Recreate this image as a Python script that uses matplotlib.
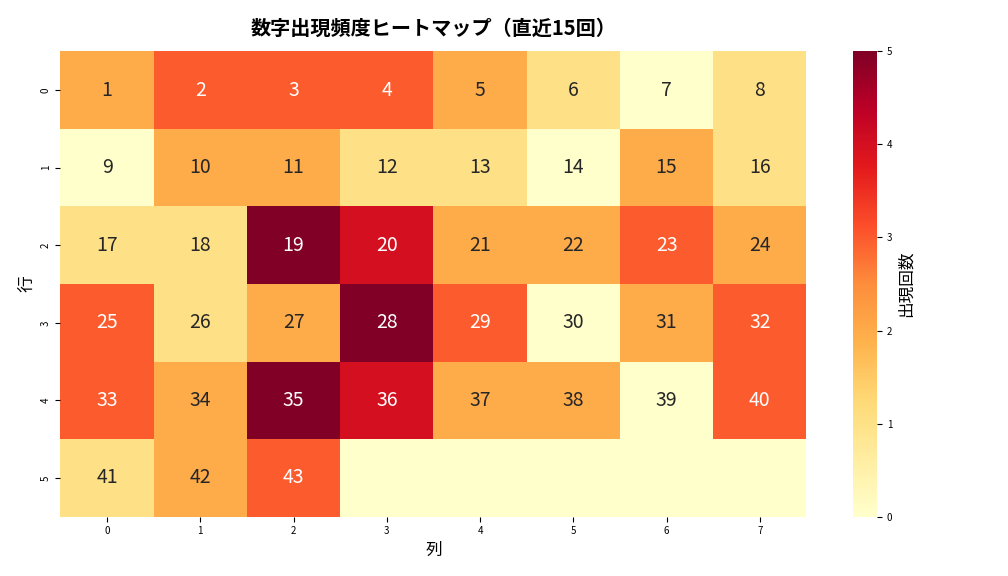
import numpy as np
import matplotlib
matplotlib.use('Agg')
import matplotlib.pyplot as plt
import seaborn as sns

plt.rcParams['font.family'] = ['Noto Sans CJK JP', 'DejaVu Sans']

# 出現回数 (6行 x 8列)
counts = [
    [2, 3, 3, 3, 2, 1, 0, 1],
    [0, 2, 2, 1, 1, 0, 2, 1],
    [1, 1, 5, 4, 2, 2, 3, 2],
    [3, 1, 2, 5, 3, 0, 2, 3],
    [3, 2, 5, 4, 2, 2, 0, 3],
    [1, 2, 3, 0, 0, 0, 0, 0],
]
numbers = list(range(1, 44))

n_rows, n_cols = len(counts), len(counts[0])
labels = [['' for _ in range(n_cols)] for _ in range(n_rows)]
for i, n in enumerate(numbers):
    labels[i // n_cols][i % n_cols] = str(n)

fig = plt.figure(figsize=(10.08, 5.76), dpi=100)
ax = fig.add_axes([0.06, 0.103, 0.74, 0.808])
cax = fig.add_axes([0.846, 0.103, 0.024, 0.808])

sns.heatmap(np.array(counts), annot=np.array(labels), fmt='', cmap='YlOrRd',
            vmin=0, vmax=5, ax=ax, cbar_ax=cax,
            annot_kws={'fontsize': 14},
            cbar_kws={'label': '出現回数'})

ax.set_title('数字出現頻度ヒートマップ（直近15回）', fontsize=14.5, fontweight='bold', pad=12)
ax.set_xlabel('列', fontsize=12)
ax.set_ylabel('行', fontsize=12)
ax.tick_params(labelsize=7)
cax.tick_params(labelsize=7)
cax.yaxis.label.set_size(12)

plt.savefig('out.png', dpi=100)
